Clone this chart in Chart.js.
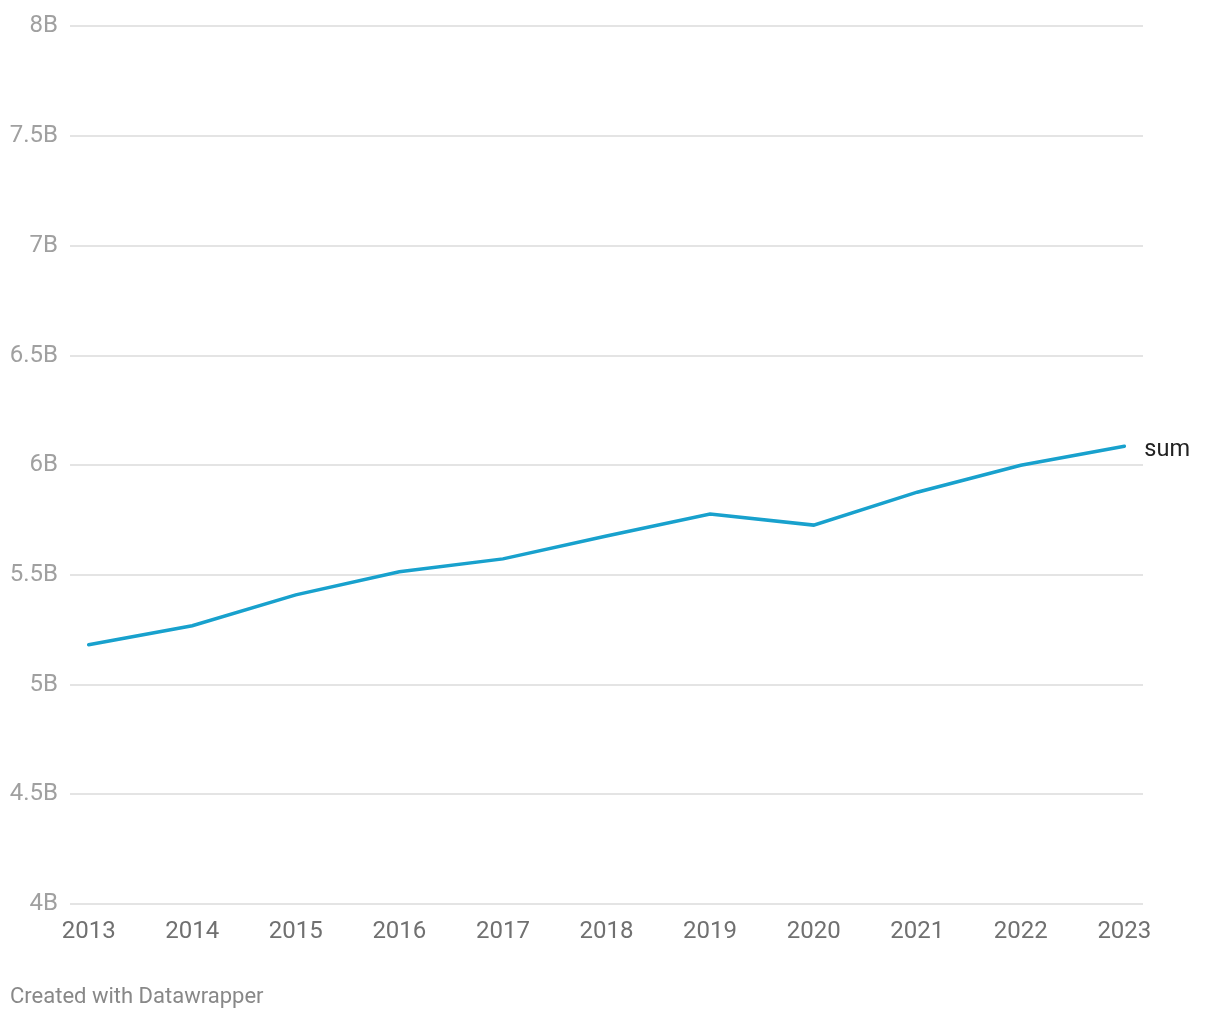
<!DOCTYPE html>
<html>
<head>
<meta charset="utf-8">
<script src="https://cdn.jsdelivr.net/npm/chart.js@4"></script>
<style>
  html, body { margin: 0; padding: 0; background: #fff; }
  #wrap { width: 1220px; height: 1020px; position: relative; }
</style>
</head>
<body>
<div id="wrap"><canvas id="chart" width="1220" height="1020"></canvas></div>
<script>
// ===== DATA =====
const years = [2013, 2014, 2015, 2016, 2017, 2018, 2019, 2020, 2021, 2022, 2023];
const sumValues = [5.182, 5.268, 5.409, 5.514, 5.573, 5.677, 5.777, 5.727, 5.877, 6.0, 6.086]; // billions
const seriesName = 'sum';
const credit = 'Created with Datawrapper';

const FONT = 'Roboto, "Noto Sans", sans-serif';

// label at end of line + footer text
const extras = {
  id: 'extras',
  afterDatasetsDraw(chart) {
    const c = chart.ctx;
    const meta = chart.getDatasetMeta(0);
    const last = meta.data[meta.data.length - 1];
    c.save();
    c.font = '23.5px ' + FONT;
    c.fillStyle = '#222';
    c.textBaseline = 'middle';
    c.textAlign = 'left';
    c.fillText(seriesName, last.x + 20, last.y + 4);
    c.font = '22px ' + FONT;
    c.fillStyle = '#888';
    c.fillText(credit, 10, 997);
    c.restore();
  }
};

new Chart(document.getElementById('chart'), {
  type: 'line',
  data: {
    datasets: [{
      label: seriesName,
      data: years.map((y, i) => ({ x: y, y: sumValues[i] })),
      borderColor: '#18a1cd',
      borderWidth: 3.5,
      borderCapStyle: 'round',
      pointRadius: 0,
      tension: 0
    }]
  },
  options: {
    responsive: false,
    animation: false,
    layout: { padding: { top: 23, right: 77, bottom: 0, left: 0 } },
    plugins: { legend: { display: false }, tooltip: { enabled: false } },
    scales: {
      x: {
        type: 'linear',
        min: 2012.82,
        max: 2023.18,
        grid: { display: false },
        border: { display: false },
        afterBuildTicks: axis => { axis.ticks = years.map(v => ({ value: v })); },
        afterFit: axis => { axis.height = 116; },
        ticks: {
          color: '#707070',
          font: { family: FONT, size: 24 },
          padding: 6,
          maxRotation: 0,
          autoSkip: false,
          callback: v => String(v)
        }
      },
      y: {
        min: 4,
        max: 8,
        grid: { color: '#e4e4e4', lineWidth: 2, drawTicks: false },
        border: { display: false },
        afterFit: axis => { axis.width = 70; },
        ticks: {
          stepSize: 0.5,
          color: '#a0a0a0',
          font: { family: FONT, size: 24 },
          padding: 12,
          callback: v => v + 'B'
        }
      }
    }
  },
  plugins: [extras]
});
</script>
</body>
</html>
